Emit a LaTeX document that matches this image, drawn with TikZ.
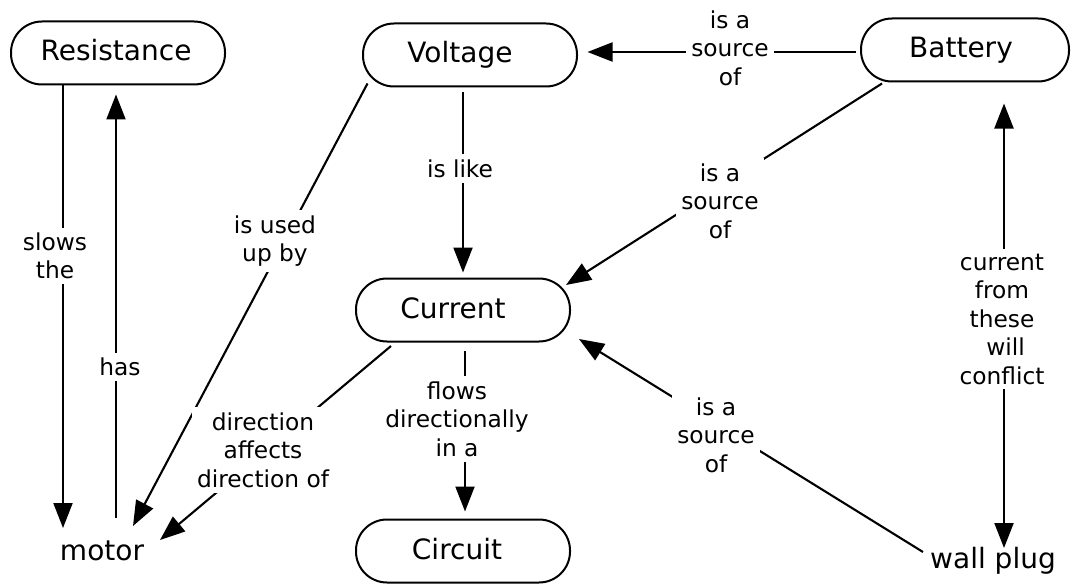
\documentclass[tikz,border=0pt]{standalone}
\usepackage{fontspec}
\setmainfont{DejaVu Sans}
\usetikzlibrary{arrows.meta,calc}
\begin{document}
\begin{tikzpicture}[x=1pt,y=-1pt,
  concept/.style={draw, line width=2pt, rounded corners=31pt, minimum width=214pt,
    minimum height=63pt, inner sep=0pt, text height=22pt, text depth=6pt,
    font=\fontsize{28}{34}\selectfont},
  plain/.style={inner sep=0pt, font=\fontsize{28}{34}\selectfont},
  lab/.style={fill=white, inner sep=5pt, align=center, font=\fontsize{23.3}{28.5}\selectfont},
  conn/.style={line width=2.1pt},
  arr/.style={conn, -{Triangle[length=25pt,width=19pt]}},
  barr/.style={conn, {Triangle[length=25pt,width=19pt]}-{Triangle[length=25pt,width=19pt]}}]
\useasboundingbox (0,0) rectangle (1075,583);

% concepts
\node[concept] (res) at (118,53) {\kern-4pt Resistance};
\node[concept] (volt) at (470,55) {\kern-20pt Voltage};
\node[concept, minimum width=208pt] (bat) at (965,50) {\kern-8pt Battery};
\node[concept] (cur) at (463,310) {\kern-20pt Current};
\node[concept] (cir) at (463,551) {\kern-12pt Circuit};
\node[plain, anchor=base] (mot) at (102,560) {motor};
\node[plain, anchor=base] (wall) at (993,568) {wall plug};

% connectors
\draw[arr] ($(res.south)+(-55,0)$) -- ($(mot.base)+(-39,-32)$);
\draw[arr] ($(mot.base)+(14,-42)$) -- ($(res.south)+(-2,9)$);
\draw[arr] ($(volt.south west)+(5.5,-4)$) -- ($(mot.base)+(31,-34)$);
\draw[arr] ($(volt.south)+(-7,5)$) -- ($(cur.north)+(0,-5)$);
\draw[arr] ($(bat.west)+(-4,2)$) -- ($(volt.east)+(9.5,-3)$);
\draw[arr] ($(bat.south)+(-83,1)$) -- ($(cur.north east)+(-5,7.5)$);
\draw[arr] ($(wall.base)+(-70,-16)$) -- ($(cur.south east)+(8,-3.5)$);
\draw[arr] ($(cur.south west)+(36,3.5)$) -- ($(mot.base)+(58,-20)$);
\draw[arr] ($(cur.south)+(2,8.5)$) -- ($(cir.north)+(2,-7)$);
\draw[barr] ($(bat.south)+(39,21)$) -- ($(wall.base)+(11,-20)$);

% linking phrases
\node[lab] (l1) at (55,256) {slows\\the};
\node[lab] (l2) at (120,367) {has};
\node[lab] (l3) at (275,241) {is used\\up by};
\node[lab] (l4) at (460,168.5) {is like};
\node[lab] (l5) at (730,48) {is a\\source\\of};
\node[lab] (l6) at (720,201) {is a\\source\\of};
\node[lab] (l7) at (716,435) {is a\\source\\of};
\node[lab] (l8) at (263,450) {direction\\affects\\direction of};
\node[lab] (l9) at (457,419) {flows\\directionally\\in a};
\node[lab] (l10) at (1002,319) {current\\from\\these\\\hspace*{7pt}will\\conflict};
\end{tikzpicture}
\end{document}
